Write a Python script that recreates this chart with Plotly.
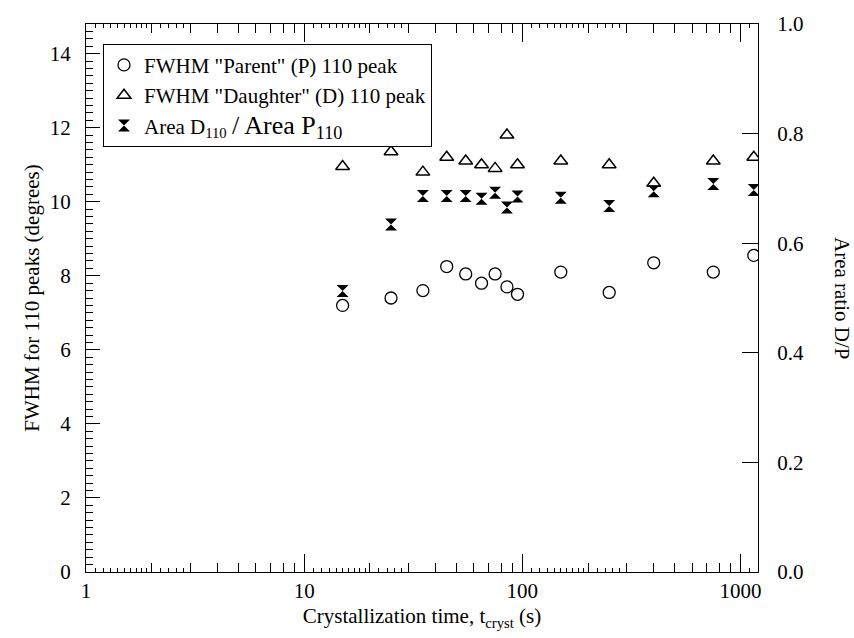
import plotly.graph_objects as go

# ---- data ----
t_cryst = [15, 25, 35, 45, 55, 65, 75, 85, 95, 150, 250, 400, 750, 1150]
fwhm_parent = [7.2, 7.4, 7.6, 8.25, 8.05, 7.8, 8.05, 7.7, 7.5, 8.1, 7.55, 8.35, 8.1, 8.55]
fwhm_daughter = [10.95, 11.35, 10.8, 11.2, 11.1, 11.0, 10.9, 11.8, 11.0, 11.1, 11.0, 10.5, 11.1, 11.2]
area_ratio = [0.513, 0.634, 0.686, 0.686, 0.686, 0.681, 0.692, 0.665, 0.685, 0.683, 0.668, 0.695, 0.708, 0.697]

x_ticks = [1, 10, 100, 1000]
x_tick_labels = ["1", "10", "100", "1000"]
y_ticks = [0, 2, 4, 6, 8, 10, 12, 14]
y_tick_labels = ["0", "2", "4", "6", "8", "10", "12", "14"]
y2_ticks = [0.0, 0.2, 0.4, 0.6, 0.8, 1.0]
y2_tick_labels = ["0.0", "0.2", "0.4", "0.6", "0.8", "1.0"]

FONT = "Liberation Serif"
FS = 21
decades = [1, 10, 100, 1000]
minor_x = [m * d for d in decades for m in range(2, 10)]
tiny_x = [round(d * (1 + 0.1 * k), 6) for d in decades for k in range(1, 10)] + \
         [round(d * (2 + 0.2 * k), 6) for d in decades for k in range(1, 5)]
minor_y = [round(i * 0.2, 4) for i in range(0, 75) if i % 10 != 0]

XR = [0, 3.08]
YR = [0, 14.8]
ML, MR, MT, MB = 86, 96, 14, 66
PW = 854 - ML - MR

fig = go.Figure()
fig.add_trace(go.Scatter(
    x=t_cryst, y=fwhm_parent, mode="markers",
    name='FWHM "Parent" (P) 110 peak',
    marker=dict(symbol="circle-open", size=12, color="black", line=dict(width=1.3)),
))
fig.add_trace(go.Scatter(
    x=t_cryst, y=fwhm_daughter, mode="markers",
    name='FWHM "Daughter" (D) 110 peak',
    marker=dict(symbol="triangle-up-open", size=12, color="black", line=dict(width=1.5)),
))
fig.add_trace(go.Scatter(
    x=t_cryst, y=area_ratio, mode="markers", yaxis="y2",
    name='Area D<sub>110</sub> <span style="font-size:26px">/ Area P<sub>110</sub></span>',
    marker=dict(symbol="hourglass", size=12, color="black", line=dict(width=0)),
))
# invisible helper trace carrying the tiny-tick x axis
fig.add_trace(go.Scatter(
    x=t_cryst, y=fwhm_parent, mode="markers", xaxis="x2", showlegend=False,
    hoverinfo="skip", marker=dict(opacity=0),
))

fig.update_layout(
    width=854, height=638,
    margin=dict(l=ML, r=MR, t=MT, b=MB),
    paper_bgcolor="white", plot_bgcolor="white",
    font=dict(family=FONT, size=FS, color="black"),
    showlegend=True,
    legend=dict(x=0.0253, y=0.964, xanchor="left", yanchor="top",
                bgcolor="white", bordercolor="black", borderwidth=1,
                font=dict(family=FONT, size=FS, color="black"),
                itemwidth=30, tracegroupgap=0),
    xaxis=dict(type="log", range=XR, tickmode="array", tickvals=x_ticks,
               ticktext=x_tick_labels, ticks="inside", ticklen=18, tickcolor="black",
               mirror="ticks", showline=True, linecolor="black", linewidth=1.2,
               showgrid=False, zeroline=False,
               tickfont=dict(family=FONT, size=FS, color="black"),
               minor=dict(tickmode="array", tickvals=minor_x, ticks="inside",
                          ticklen=9, tickcolor="black"),
               title=dict(text="Crystallization time, t<sub>cryst</sub> (s)",
                          font=dict(family=FONT, size=FS), standoff=6)),
    xaxis2=dict(type="log", range=XR, overlaying="x", anchor="y", side="bottom",
                tickmode="array", tickvals=tiny_x, showticklabels=False,
                ticks="inside", ticklen=4, tickcolor="black", mirror="ticks",
                showline=False, showgrid=False, zeroline=False),
    yaxis=dict(range=YR, tickmode="array", tickvals=y_ticks, ticktext=y_tick_labels,
               ticks="inside", ticklen=14, tickwidth=1.4, tickcolor="black",
               ticklabelstandoff=10,
               showline=True, linecolor="black", linewidth=1.2,
               showgrid=False, zeroline=False,
               tickfont=dict(family=FONT, size=FS, color="black"),
               minor=dict(tickmode="array", tickvals=minor_y, ticks="inside",
                          ticklen=7, tickwidth=1.2, tickcolor="black"),
               title=dict(text="FWHM for 110 peaks (degrees)",
                          font=dict(family=FONT, size=FS), standoff=4)),
    yaxis2=dict(range=[0, 1.0], overlaying="y", side="right", anchor="x",
                tickmode="array", tickvals=y2_ticks, ticktext=y2_tick_labels,
                ticks="inside", ticklen=16, tickcolor="black",
                ticklabelstandoff=14,
                showline=True, linecolor="black", linewidth=1.2,
                showgrid=False, zeroline=False,
                tickfont=dict(family=FONT, size=FS, color="black")),
    annotations=[dict(text="Area ratio D/P", textangle=90, x=1.0, xref="paper",
                      xanchor="center", y=0.5, yref="paper", showarrow=False,
                      font=dict(family=FONT, size=FS, color="black"))],
)
fig.layout.annotations[0].x = (842 - ML) / PW

fig.write_html("out.html")
